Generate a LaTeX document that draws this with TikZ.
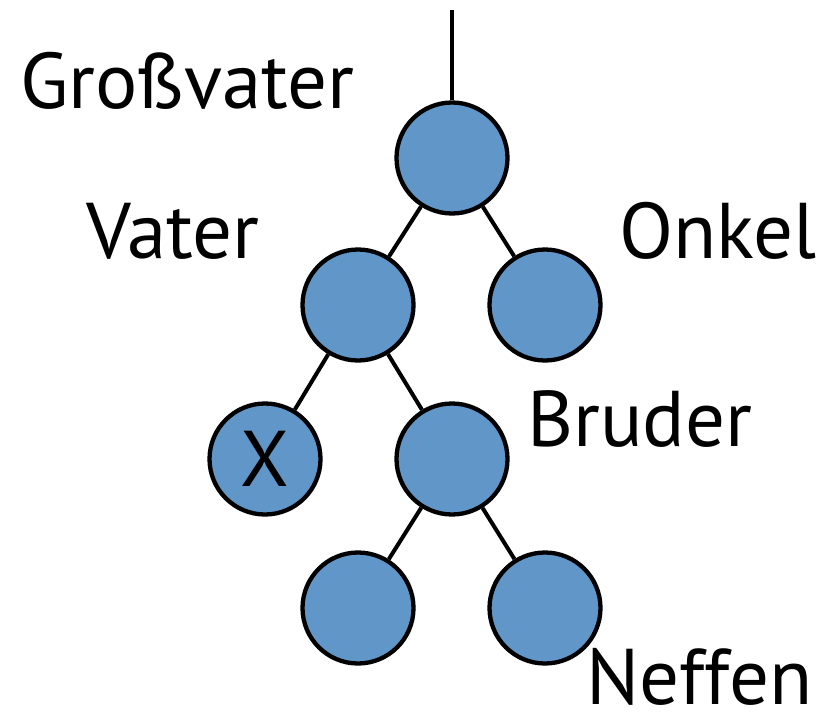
\documentclass[tikz,border=0pt]{standalone}
\usepackage{fontspec}
\setmainfont{PT Sans}
\begin{document}
\begin{tikzpicture}[x=1pt,y=-1pt,
  member/.style={circle,draw=black,line width=4.3pt,fill=nodeblue,minimum size=111pt,inner sep=0pt,font=\fontsize{79}{79}\selectfont},
  link/.style={line width=4pt},
  lbl/.style={anchor=base west,inner sep=0pt,font=\fontsize{79}{79}\selectfont}]
\definecolor{nodeblue}{HTML}{6096C8}
\useasboundingbox (0,0) rectangle (824,712);
\node[member] (g) at (452,158) {};
\node[member] (v) at (358,305) {};
\node[member] (o) at (545,305) {};
\node[member] (x) at (265,459) {X};
\node[member] (b) at (452,459) {};
\node[member] (n1) at (358,608) {};
\node[member] (n2) at (545,608) {};
\coordinate (top) at (452,10);
\draw[link] (top) -- (g);
\draw[link] (g) -- (v);
\draw[link] (g) -- (o);
\draw[link] (v) -- (x);
\draw[link] (v) -- (b);
\draw[link] (b) -- (n1);
\draw[link] (b) -- (n2);
\node[lbl] (tg) at (20,108) {Großvater};
\node[lbl] (tv) at (86,258) {Vater};
\node[lbl] (to) at (619,258) {Onkel};
\node[lbl] (tb) at (527,446) {Bruder};
\node[lbl] (tn) at (586,704) {Neffen};
\end{tikzpicture}
\end{document}
